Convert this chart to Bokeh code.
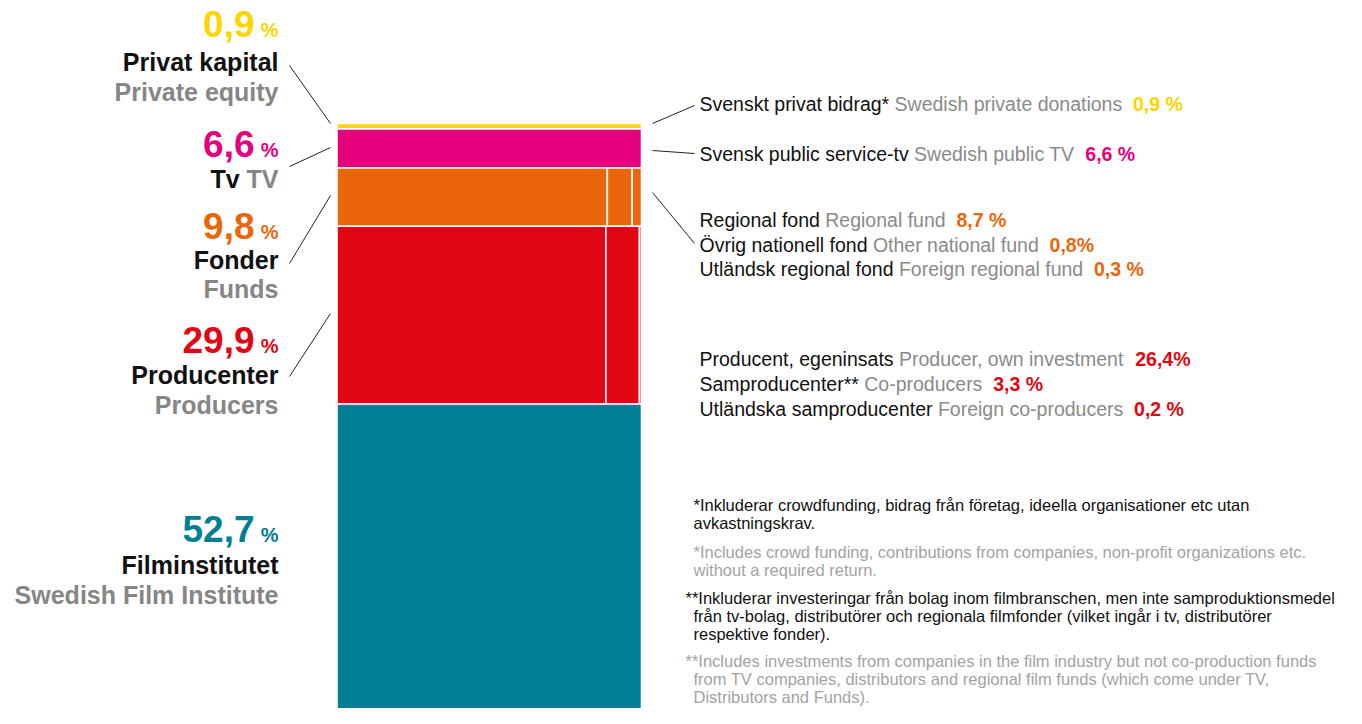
from bokeh.plotting import figure
from bokeh.models import Range1d
from bokeh.core.properties import value
from bokeh.embed import file_html
from bokeh.resources import INLINE

# ---------------- data ----------------
main_sv = ["Privat kapital", "Tv", "Fonder", "Producenter", "Filminstitutet"]
main_en = ["Private equity", "TV", "Funds", "Producers", "Swedish Film Institute"]
main_values = [0.9, 6.6, 9.8, 29.9, 52.7]
main_value_labels = ["0,9", "6,6", "9,8", "29,9", "52,7"]

sub_parent = [0, 1, 2, 2, 2, 3, 3, 3]
sub_sv = ["Svenskt privat bidrag*", "Svensk public service-tv", "Regional fond",
          "Övrig nationell fond", "Utländsk regional fond", "Producent, egeninsats",
          "Samproducenter**", "Utländska samproducenter"]
sub_en = ["Swedish private donations", "Swedish public TV", "Regional fund",
          "Other national fund", "Foreign regional fund", "Producer, own investment",
          "Co-producers", "Foreign co-producers"]
sub_values = [0.9, 6.6, 8.7, 0.8, 0.3, 26.4, 3.3, 0.2]
sub_value_labels = ["0,9 %", "6,6 %", "8,7 %", "0,8%", "0,3 %", "26,4%", "3,3 %", "0,2 %"]

footnotes = [
    ("*Inkluderar crowdfunding, bidrag från företag, ideella organisationer etc utan", "sv"),
    (" avkastningskrav.", "sv"),
    ("*Includes crowd funding, contributions from companies, non-profit organizations etc.", "en"),
    (" without a required return.", "en"),
    ("**Inkluderar investeringar från bolag inom filmbranschen, men inte samproduktionsmedel", "sv"),
    (" från tv-bolag, distributörer och regionala filmfonder (vilket ingår i tv, distributörer", "sv"),
    (" respektive fonder).", "sv"),
    ("**Includes investments from companies in the film industry but not co-production funds", "en"),
    (" from TV companies, distributors and regional film funds (which come under TV,", "en"),
    (" Distributors and Funds).", "en"),
]

# ---------------- styles / layout ----------------
colors = ["#FFD500", "#E5007E", "#EB660A", "#E10613", "#008094"]
BLACK = "#111111"
GRAY = "#868686"
GRAY_R = "#8a8a8a"
GRAY_F = "#a3a3a3"
FONT = value("Liberation Sans")

W, H = 1346, 708
TOP_PX = 123.0
PPP = 5.94  # screen px per percent


def Y(px):
    return (px - TOP_PX) / PPP


def YT(baseline_px, size):
    # visual baseline -> anchor used by bokeh's alphabetic baseline
    return Y(baseline_px - 0.36 * size)


BAR_L, BAR_R = 336.5, 641.0

REG = {' ': 278, '*': 389, ',': 278, '-': 333, '.': 278, '%': 889, '(': 333, ')': 333,
       'a': 556, 'b': 556, 'c': 500, 'd': 556, 'e': 556, 'f': 278, 'g': 556, 'h': 556,
       'i': 222, 'j': 222, 'k': 500, 'l': 222, 'm': 833, 'n': 556, 'o': 556, 'p': 556,
       'q': 556, 'r': 333, 's': 500, 't': 278, 'u': 556, 'v': 500, 'w': 722, 'x': 500,
       'y': 500, 'z': 500, 'ä': 556, 'å': 556, 'ö': 556,
       'A': 667, 'B': 667, 'C': 722, 'D': 722, 'E': 667, 'F': 611, 'G': 778, 'H': 722,
       'I': 278, 'J': 500, 'K': 667, 'L': 556, 'M': 833, 'N': 722, 'O': 778, 'P': 667,
       'Q': 778, 'R': 722, 'S': 667, 'T': 611, 'U': 722, 'V': 667, 'W': 944, 'X': 667,
       'Y': 667, 'Z': 611, 'Ö': 778}
BOLD = {' ': 278, 'T': 611, 'V': 667, 'v': 556}


def tw(s, size, table=REG):
    return sum(table.get(c, 556) for c in s) * size / 1000.0


p = figure(width=W, height=H, x_range=Range1d(0, W), y_range=Range1d(Y(H), Y(0)),
           output_backend="svg", toolbar_location=None, min_border=0,
           x_axis_type=None, y_axis_type=None)
p.outline_line_color = None
p.background_fill_color = "white"
p.border_fill_color = "white"

# ---------------- bar ----------------
L, R, T, B, C = [], [], [], [], []
cum = 0.0
for i, v in enumerate(main_values):
    top, bot = cum, cum + v
    idx = [k for k, par in enumerate(sub_parent) if par == i]
    if idx:
        tot = sum(sub_values[k] for k in idx)
        x = BAR_L
        for k in idx:
            w = (BAR_R - BAR_L) * sub_values[k] / tot
            L.append(x); R.append(x + w); T.append(top); B.append(bot); C.append(colors[i])
            x += w
    else:
        L.append(BAR_L); R.append(BAR_R); T.append(top); B.append(bot); C.append(colors[i])
    cum = bot

p.quad(left=L, right=R, top=T, bottom=B, fill_color=C, line_color="white", line_width=1.6)

# ---------------- left labels ----------------
val_base = [37, 157, 239, 353, 542]
sv_base = [70, 187, 268, 383, 573]
en_base = [100.5, 187, 297, 413, 603]
LBL_R = 278
VAL_R = 254
BIG = 37
MID = 25
PCT = 20

p.text(x=[VAL_R] * 5, y=[YT(b, BIG) for b in val_base], text=main_value_labels,
       text_color=colors, text_font=FONT, text_font_size=value(f"{BIG}px"),
       text_font_style="bold", text_align="right", text_baseline="alphabetic")
p.text(x=[LBL_R] * 5, y=[YT(b, PCT) for b in val_base], text=["%"] * 5,
       text_color=colors, text_font=FONT, text_font_size=value(f"{PCT}px"),
       text_font_style="bold", text_align="right", text_baseline="alphabetic")

sv_x = []
for i in range(5):
    if sv_base[i] == en_base[i]:
        sv_x.append(LBL_R - tw(" " + main_en[i], MID, BOLD))
    else:
        sv_x.append(LBL_R)
p.text(x=sv_x, y=[YT(b, MID) for b in sv_base], text=main_sv, text_color=BLACK,
       text_font=FONT, text_font_size=value(f"{MID}px"), text_font_style="bold",
       text_align="right", text_baseline="alphabetic")
p.text(x=[LBL_R] * 5, y=[YT(b, MID) for b in en_base], text=main_en, text_color=GRAY,
       text_font=FONT, text_font_size=value(f"{MID}px"), text_font_style="bold",
       text_align="right", text_baseline="alphabetic")

# ---------------- right labels ----------------
RX = 699
RS = 19.5
r_base = [110.5, 160.5, 226.5, 251.5, 276, 365.5, 390.5, 415.5]
en_x = [RX + tw(s + " ", RS) for s in sub_sv]
val_x = [en_x[k] + tw(sub_en[k] + "  ", RS) for k in range(len(sub_en))]
ry = [YT(b, RS) for b in r_base]
p.text(x=[RX] * len(sub_sv), y=ry, text=sub_sv, text_color=BLACK, text_font=FONT,
       text_font_size=value(f"{RS}px"), text_baseline="alphabetic")
p.text(x=en_x, y=ry, text=sub_en, text_color=GRAY_R, text_font=FONT,
       text_font_size=value(f"{RS}px"), text_baseline="alphabetic")
p.text(x=val_x, y=ry, text=sub_value_labels, text_color=[colors[k] for k in sub_parent],
       text_font=FONT, text_font_size=value(f"{RS}px"), text_font_style="bold",
       text_baseline="alphabetic")

# ---------------- connector lines ----------------
seg_x0 = [289, 289, 289, 289, 652, 652, 652]
seg_y0 = [65, 166, 263, 376, 123, 150, 192]
seg_x1 = [330, 330, 330, 330, 694, 694, 694]
seg_y1 = [123, 147, 195, 313, 105, 153, 243]
p.segment(x0=seg_x0, y0=[Y(v) for v in seg_y0], x1=seg_x1, y1=[Y(v) for v in seg_y1],
          line_color="#222222", line_width=1)

# ---------------- footnotes ----------------
FS = 16.5
fn_x = [693, 693, 693, 693, 685, 693, 693, 685, 693, 693]
fn_base = [510, 528.5, 557, 575, 603, 621, 639, 666.5, 684.5, 702.5]
p.text(x=fn_x, y=[YT(b, FS) for b in fn_base], text=[f[0] for f in footnotes],
       text_color=[BLACK if f[1] == "sv" else GRAY_F for f in footnotes],
       text_font=FONT, text_font_size=value(f"{FS}px"), text_baseline="alphabetic")

open("out.html", "w").write(file_html(p, INLINE))
